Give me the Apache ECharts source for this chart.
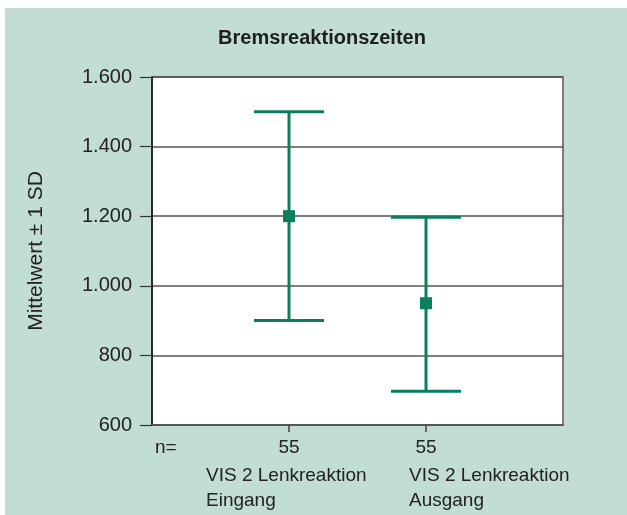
<!DOCTYPE html>
<html>
<head>
<meta charset="utf-8">
<script src="https://cdn.jsdelivr.net/npm/echarts@6/dist/echarts.min.js"></script>
<style>
html,body{margin:0;padding:0;background:#fff;}
#bg{position:absolute;left:5px;top:8px;width:622px;height:507px;background:#c1ddd4;}
#main{position:absolute;left:0;top:0;width:627px;height:515px;}
</style>
</head>
<body>
<div id="bg"></div>
<div id="main"></div>
<script>
// slots on the x axis: empty, group 1, group 2, empty
var slots = ['', 'Eingang', 'Ausgang', ''];
var nLabels = ['', '55', '55', ''];
var catNames = ['VIS 2 Lenkreaktion\nEingang', 'VIS 2 Lenkreaktion\nAusgang'];
var catIndex = [1, 2];
var means = [1200, 950];
var lows = [900, 697];
var highs = [1500, 1197];
var yTicks = [600, 800, 1000, 1200, 1400, 1600];

var green = '#0b7e5d';
var font = '"Liberation Sans", Arial, sans-serif';

function deNum(v){
	if(v >= 1000){
		return Math.floor(v/1000) + '.' + String(v%1000).padStart(3,'0');
	}
	return String(v);
}

var barData = [];
var meanData = [];
for(var i=0;i<means.length;i++){
	barData.push([catIndex[i], lows[i], highs[i]]);
	meanData.push([catIndex[i], means[i]]);
}

var myChart = echarts.init(document.getElementById('main'));
var option = {
	backgroundColor: 'transparent',
	animation: false,
	title: {
		text: 'Bremsreaktionszeiten',
		left: 317,
		textAlign: 'center',
		top: 23,
		textStyle: {fontFamily: font, fontSize: 20, fontWeight: 'bold', color: '#1e1e1e'}
	},
	grid: {
		left: 152, right: 64, top: 77, bottom: 90,
		show: true, backgroundColor: '#fff', borderColor: '#555', borderWidth: 1.5
	},
	xAxis: {
		type: 'category',
		data: slots,
		boundaryGap: false,
		axisLine: {lineStyle: {color: '#555', width: 1.5}},
		axisTick: {
			length: 7,
			interval: function(i){ return i===1 || i===2; },
			lineStyle: {color: '#444', width: 1.5}
		},
		axisLabel: {
			interval: function(i){ return i===1 || i===2; },
			formatter: function(v, i){ return nLabels[i]; },
			margin: 13,
			fontFamily: font, fontSize: 19, color: '#222'
		},
		splitLine: {show: false}
	},
	yAxis: {
		type: 'value',
		min: yTicks[0], max: yTicks[yTicks.length-1], interval: 200,
		name: 'Mittelwert ± 1 SD',
		nameLocation: 'middle',
		nameGap: 105,
		nameTextStyle: {fontFamily: font, fontSize: 21, color: '#222'},
		axisLine: {show: true, lineStyle: {color: '#111', width: 1.5}},
		axisTick: {show: true, length: 12, lineStyle: {color: '#333', width: 1.2}},
		axisLabel: {
			formatter: deNum, margin: 20,
			fontFamily: font, fontSize: 20, color: '#222'
		},
		splitLine: {lineStyle: {color: '#555', width: 1.5}}
	},
	series: [
		{
			type: 'custom',
			renderItem: function(params, api){
				var top = api.coord([api.value(0), api.value(2)]);
				var bot = api.coord([api.value(0), api.value(1)]);
				var hw = 35;
				var st = {stroke: green, lineWidth: 3};
				return {type: 'group', children: [
					{type: 'line', shape: {x1: top[0], y1: top[1], x2: bot[0], y2: bot[1]}, style: st},
					{type: 'line', shape: {x1: top[0]-hw, y1: top[1], x2: top[0]+hw, y2: top[1]}, style: st},
					{type: 'line', shape: {x1: bot[0]-hw, y1: bot[1], x2: bot[0]+hw, y2: bot[1]}, style: st}
				]};
			},
			encode: {x: 0, y: [1, 2]},
			data: barData,
			z: 3
		},
		{
			type: 'scatter',
			symbol: 'rect',
			symbolSize: 12,
			itemStyle: {color: green, opacity: 1},
			data: meanData,
			z: 4
		}
	]
};
myChart.setOption(option);

// category names under the n row
var offsets = [-83, -17];
var graphics = [{
	type: 'text',
	left: 155, top: 438,
	style: {text: 'n=', font: '19px ' + font, fill: '#222'}
}];
for(var k=0;k<catNames.length;k++){
	var px = myChart.convertToPixel({xAxisIndex: 0}, slots[catIndex[k]]);
	graphics.push({
		type: 'text',
		x: px + offsets[k], y: 463,
		style: {text: catNames[k], font: '19px ' + font, fill: '#222', lineHeight: 25}
	});
}
myChart.setOption({graphic: graphics});
</script>
</body>
</html>
